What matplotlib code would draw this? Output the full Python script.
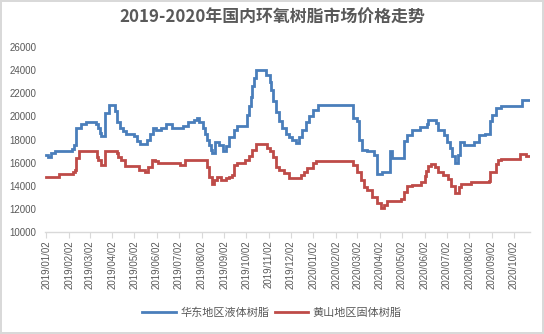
import matplotlib
matplotlib.use("Agg")
import matplotlib.pyplot as plt
import pandas as pd

title = "2019-2020年国内环氧树脂市场价格走势"
series_names = ["华东地区液体树脂", "黄山地区固体树脂"]

east_dates = ["2019-01-02", "2019-01-04", "2019-01-08", "2019-01-13", "2019-02-06", "2019-02-09",
              "2019-02-12", "2019-02-18", "2019-02-25", "2019-03-11", "2019-03-14", "2019-03-16",
              "2019-03-18", "2019-03-23", "2019-03-28", "2019-04-06", "2019-04-09", "2019-04-12",
              "2019-04-16", "2019-04-21", "2019-05-02", "2019-05-06", "2019-05-10", "2019-05-20",
              "2019-05-24", "2019-05-28", "2019-06-01", "2019-06-08", "2019-06-14", "2019-06-22",
              "2019-07-07", "2019-07-14", "2019-07-23", "2019-07-27", "2019-07-30", "2019-08-04",
              "2019-08-07", "2019-08-09", "2019-08-12", "2019-08-15", "2019-08-16", "2019-08-20",
              "2019-08-26", "2019-09-01", "2019-09-04", "2019-09-09", "2019-09-15", "2019-09-20",
              "2019-10-03", "2019-10-06", "2019-10-08", "2019-10-10", "2019-10-13", "2019-10-15",
              "2019-10-29", "2019-11-03", "2019-11-05", "2019-11-07", "2019-11-12", "2019-11-16",
              "2019-11-20", "2019-11-25", "2019-11-30", "2019-12-04", "2019-12-09", "2019-12-13",
              "2019-12-17", "2019-12-23", "2019-12-27", "2020-01-01", "2020-01-08", "2020-02-25",
              "2020-03-02", "2020-03-04", "2020-03-08", "2020-03-15", "2020-03-25", "2020-03-29",
              "2020-04-05", "2020-04-15", "2020-04-19", "2020-05-05", "2020-05-09", "2020-05-16",
              "2020-05-26", "2020-06-05", "2020-06-07", "2020-06-18", "2020-06-20", "2020-06-29",
              "2020-07-02", "2020-07-06", "2020-07-10", "2020-07-13", "2020-07-17", "2020-07-20",
              "2020-07-26", "2020-08-08", "2020-08-15", "2020-08-23", "2020-08-31", "2020-09-02",
              "2020-09-07", "2020-09-14", "2020-10-13", "2020-10-22"]
east_values = [16650, 16500, 16800, 17000, 17200, 17500,
               19000, 19300, 19500, 19300, 19000, 18600,
               18300, 20300, 21000, 20500, 19500, 19000,
               18700, 18500, 18300, 17900, 17600, 18000,
               18500, 19000, 18800, 19000, 19300, 19000,
               19200, 19500, 19700, 19900, 19500, 19000,
               18500, 18000, 17500, 17100, 16800, 17800,
               17500, 17000, 17400, 18200, 18850, 19200,
               20150, 20900, 21700, 22600, 23300, 24000,
               23600, 23000, 22300, 21300, 20400, 19600,
               19000, 18500, 18250, 17950, 17700, 18250,
               18850, 19550, 20000, 20580, 21000, 19900,
               19600, 18000, 17100, 17000, 16700, 15000,
               15200, 17000, 16400, 17900, 18400, 18800,
               19100, 19300, 19700, 19400, 18800, 18400,
               17800, 17300, 16600, 16000, 16700, 17800,
               17500, 17800, 18400, 18500, 19600, 20100,
               20700, 20900, 21450, 21450]

huangshan_dates = ["2019-01-02", "2019-01-19", "2019-02-07", "2019-02-10", "2019-02-12", "2019-02-15",
                   "2019-03-12", "2019-03-14", "2019-03-17", "2019-03-23", "2019-04-08", "2019-04-10",
                   "2019-04-14", "2019-04-20", "2019-05-08", "2019-05-17", "2019-05-21", "2019-05-26",
                   "2019-05-31", "2019-06-04", "2019-07-03", "2019-07-11", "2019-08-09", "2019-08-12",
                   "2019-08-16", "2019-08-19", "2019-08-23", "2019-08-28", "2019-09-04", "2019-09-09",
                   "2019-09-13", "2019-09-15", "2019-09-20", "2019-10-01", "2019-10-06", "2019-10-10",
                   "2019-10-15", "2019-10-31", "2019-11-03", "2019-11-07", "2019-11-12", "2019-11-16",
                   "2019-11-23", "2019-11-30", "2019-12-16", "2019-12-20", "2019-12-24", "2020-01-01",
                   "2020-01-06", "2020-02-25", "2020-03-02", "2020-03-07", "2020-03-11", "2020-03-15",
                   "2020-03-22", "2020-03-29", "2020-04-03", "2020-04-08", "2020-04-12", "2020-05-01",
                   "2020-05-05", "2020-05-09", "2020-05-16", "2020-05-28", "2020-06-02", "2020-06-04",
                   "2020-06-07", "2020-06-11", "2020-06-16", "2020-06-20", "2020-06-27", "2020-07-04",
                   "2020-07-08", "2020-07-13", "2020-07-19", "2020-07-22", "2020-08-05", "2020-08-29",
                   "2020-08-31", "2020-09-07", "2020-09-10", "2020-09-14", "2020-10-11", "2020-10-18",
                   "2020-10-22"]
huangshan_values = [14800, 15000, 15200, 15400, 16400, 17000,
                    16500, 16200, 15800, 17000, 16800, 16500,
                    16200, 15700, 15400, 15200, 15600, 16200,
                    16100, 15950, 15800, 16200, 15650, 14800,
                    14150, 14500, 14800, 14500, 14650, 14800,
                    14930, 15800, 16000, 16200, 16600, 17100,
                    17600, 17250, 17000, 16500, 15650, 15350,
                    15080, 14650, 14930, 15200, 15500, 15950,
                    16100, 15800, 15200, 14500, 13900, 13600,
                    13000, 12500, 12050, 12300, 12700, 12850,
                    13500, 14000, 14100, 14300, 14870, 15300,
                    15750, 15900, 15600, 15200, 14950, 14600,
                    14000, 13350, 13900, 14150, 14300, 14450,
                    15200, 15900, 16200, 16350, 16750, 16600,
                    16600]

tick_labels = [f"{y}/{m:02d}/02" for y, m in
               [(2019, m) for m in range(1, 13)] + [(2020, m) for m in range(1, 11)]]
y_ticks = [10000, 12000, 14000, 16000, 18000, 20000, 22000, 24000, 26000]

cjk = ["Noto Sans CJK SC", "DejaVu Sans"]
num_font = ["Liberation Sans", "DejaVu Sans"]
text_grey = "#595959"
blue = "#4A7EBB"
red = "#BE4B48"

fig = plt.figure(figsize=(5.44, 3.34), dpi=100)
fig.patch.set_facecolor("white")
fig.patch.set_edgecolor("#d9d9d9")
fig.patch.set_linewidth(1.5)

ax = fig.add_axes([45 / 544, 1 - 232 / 334, (530 - 45) / 544, (232 - 47) / 334])

ax.plot(pd.to_datetime(east_dates), east_values, drawstyle="steps-post",
        color=blue, lw=2.0, label=series_names[0], solid_joinstyle="miter")
ax.plot(pd.to_datetime(huangshan_dates), huangshan_values, drawstyle="steps-post",
        color=red, lw=2.0, label=series_names[1], solid_joinstyle="miter")

ax.set_ylim(10000, 26000)
ax.set_xlim(pd.Timestamp("2018-12-31"), pd.Timestamp("2020-10-24"))
ax.set_yticks(y_ticks)
ax.set_yticklabels([str(v) for v in y_ticks], fontfamily=num_font, fontsize=7, color=text_grey)
ticks = pd.to_datetime(tick_labels, format="%Y/%m/%d")
ax.set_xticks(ticks)
ax.set_xticklabels(tick_labels, rotation=90, fontfamily=num_font, fontsize=7, color=text_grey)

for s in ["top", "right", "left"]:
    ax.spines[s].set_visible(False)
ax.spines["bottom"].set_color("#d9d9d9")
ax.spines["bottom"].set_linewidth(1)
ax.tick_params(axis="x", direction="out", length=4, color="#d9d9d9", pad=2)
ax.tick_params(axis="y", length=0, pad=6)

fig.text(0.5, 1 - 18 / 334, title, ha="center", va="center", fontsize=12.2,
         fontweight="bold", color=text_grey, family=cjk)

leg = fig.legend(loc="center", bbox_to_anchor=(0.5, 1 - 313 / 334), ncol=2, frameon=False,
                 prop={"family": cjk, "size": 8}, handlelength=3.0, columnspacing=0.5,
                 handletextpad=0.4)
for t in leg.get_texts():
    t.set_color(text_grey)

fig.savefig("out.png", dpi=100, facecolor=fig.get_facecolor(), edgecolor=fig.get_edgecolor())
